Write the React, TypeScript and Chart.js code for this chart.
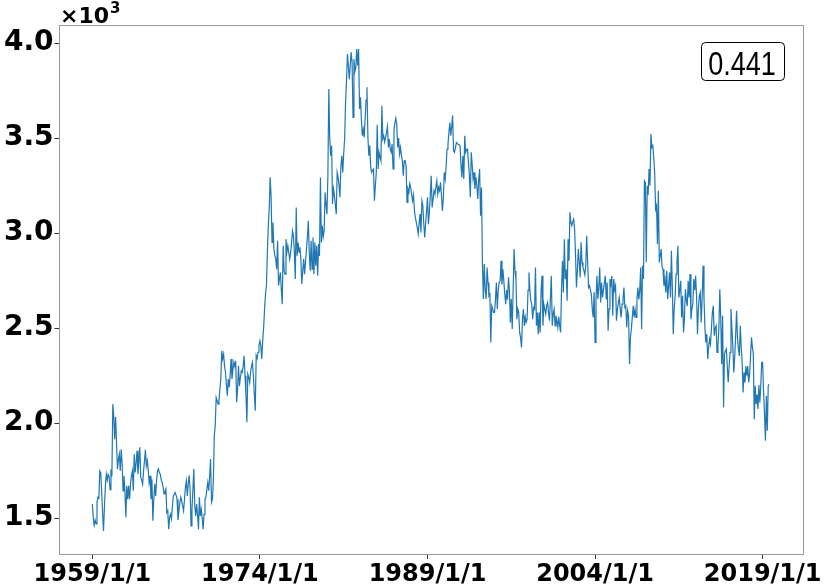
import React, { useEffect, useRef } from "react";
import { Chart, registerables } from "chart.js";

Chart.register(...registerables);

// Monthly values, starting 1959/1
const v1950s = [1574, 1500, 1463, 1490, 1470, 1584, 1610, 1605, 1749, 1740, 1640, 1530];
const v1960s = [
  1433, 1560, 1670, 1731, 1700, 1731, 1720, 1650, 1758, 1720, 2100, 2038,
  1916, 2032, 1890, 1758, 1810, 1837, 1749, 1863, 1788, 1644, 1723, 1640,
  1505, 1670, 1600, 1670, 1600, 1680, 1723, 1749, 1644, 1837, 1740, 1790,
  1855, 1731, 1800, 1873, 1714, 1700, 1679, 1749, 1800, 1860, 1775, 1802,
  1758, 1688, 1723, 1600, 1705, 1486, 1600, 1679, 1617, 1700, 1749, 1760,
  1740, 1731, 1700, 1688, 1663, 1628, 1640, 1654, 1530, 1539, 1442, 1505,
  1520, 1497, 1560, 1617, 1625, 1635, 1620, 1600, 1491, 1540, 1580, 1610,
  1590, 1565, 1539, 1600, 1663, 1697, 1617, 1680, 1726, 1654, 1460, 1547,
  1650, 1758, 1565, 1512, 1574, 1520, 1442, 1610, 1512, 1547, 1500, 1442,
  1520, 1600, 1610, 1653, 1688, 1644, 1720, 1811, 1584, 1600, 1700, 1933,
];
const v1970s = [
  1986, 2135, 2120, 2100, 2117, 2180, 2232, 2380, 2337, 2363, 2300, 2268,
  2200, 2144, 2232, 2189, 2250, 2337, 2232, 2280, 2320, 2300, 2328, 2110,
  2180, 2302, 2196, 2240, 2275, 2267, 2300, 2354, 2249, 2150, 2005, 2258,
  2240, 2214, 2270, 2300, 2320, 2249, 2150, 2065, 2355, 2340, 2373, 2410,
  2433, 2407, 2337, 2433, 2504, 2600, 2680, 2723, 2900, 3039, 3126, 3293,
  3196, 2951, 3056, 2916, 2881, 2863, 2810, 2960, 2723, 2760, 2793, 2700,
  2626, 2933, 2800, 2784, 2968, 2900, 2933, 2898, 2863, 2900, 2950, 3012,
  2986, 2900, 2758, 3135, 2881, 2950, 2900, 2925, 2860, 2732, 2800, 2863,
  2784, 2850, 2916, 2980, 3065, 2900, 2802, 2960, 2810, 2977, 2784, 2951,
  2828, 2933, 2775, 2942, 2880, 3293, 2951, 3038, 2980, 3012, 3214, 3150,
];
const v1980s = [
  3100, 3300, 3758, 3500, 3407, 3460, 3153, 3232, 3200, 3150, 3100, 3319,
  3293, 3250, 3188, 3350, 3407, 3319, 3420, 3495, 3688, 3800, 3942, 3880,
  3810, 3880, 3951, 3900, 3609, 3916, 3850, 3872, 3968, 3882, 3968, 3653,
  3714, 3600, 3512, 3547, 3503, 3600, 3700, 3767, 3503, 3407, 3460, 3346,
  3319, 3330, 3337, 3170, 3250, 3319, 3570, 3337, 3425, 3400, 3381, 3670,
  3495, 3512, 3480, 3503, 3530, 3561, 3451, 3495, 3440, 3425, 3468, 3337,
  3543, 3580, 3605, 3570, 3451, 3500, 3416, 3450, 3407, 3380, 3302, 3380,
  3381, 3355, 3161, 3232, 3214, 3260, 3240, 3200, 3170, 3200, 3117, 3080,
  3056, 3030, 2995, 3050, 3100, 3003, 3170, 3144, 3050, 2977, 3050, 3117,
  3188, 3047, 3109, 3200, 3302, 3135, 3180, 3223, 3205, 3240, 3275, 3205,
];
const v1990s = [
  3240, 3223, 3267, 3200, 3117, 3179, 3319, 3284, 3350, 3442, 3468, 3530,
  3582, 3512, 3560, 3618, 3433, 3425, 3450, 3477, 3470, 3468, 3465, 3460,
  3355, 3293, 3407, 3284, 3512, 3425, 3440, 3442, 3372, 3300, 3188, 3425,
  3360, 3284, 3319, 3232, 3293, 3250, 3179, 3280, 3337, 3091, 3240, 2846,
  2653, 2837, 2700, 2653, 2819, 2740, 2670, 2679, 2425, 2617, 2600, 2582,
  2582, 2650, 2740, 2600, 2700, 2740, 2749, 2854, 2730, 2810, 2750, 2679,
  2626, 2700, 2650, 2767, 2700, 2530, 2653, 2495, 2700, 2916, 2800, 2758,
  2547, 2600, 2582, 2477, 2450, 2398, 2547, 2600, 2512, 2560, 2530, 2547,
  2700, 2793, 2700, 2644, 2626, 2547, 2608, 2600, 2819, 2512, 2582, 2468,
  2583, 2477, 2700, 2775, 2512, 2626, 2600, 2574, 2620, 2635, 2580, 2539,
];
const v2000s = [
  2650, 2775, 2512, 2574, 2600, 2512, 2565, 2540, 2504, 2560, 2512, 2477,
  2705, 2854, 2688, 2968, 2758, 2810, 2644, 2968, 2854, 3109, 3056, 3039,
  3060, 3074, 3021, 2889, 2714, 2800, 2916, 2850, 2767, 2951, 2846, 2820,
  2802, 2780, 2828, 2986, 2850, 2714, 2723, 2700, 2679, 2600, 2556, 2688,
  2425, 2653, 2775, 2653, 2714, 2819, 2635, 2740, 2661, 2700, 2740, 2775,
  2651, 2740, 2486, 2600, 2758, 2730, 2775, 2565, 2758, 2700, 2723, 2539,
  2600, 2635, 2661, 2600, 2556, 2626, 2650, 2714, 2609, 2617, 2504, 2591,
  2565, 2311, 2451, 2495, 2560, 2617, 2556, 2600, 2556, 2650, 2714, 2651,
  2700, 2819, 2495, 2828, 2758, 3275, 3267, 2846, 3249, 3200, 3337, 3249,
  3521, 3451, 3460, 3400, 3319, 3126, 3144, 2942, 3223, 2846, 2880, 2916,
];
const v2010s = [
  2819, 2810, 2723, 2758, 2688, 2802, 2653, 2720, 2793, 2661, 2907, 2714,
  2468, 2600, 2670, 2784, 2850, 2933, 2661, 2700, 2749, 2556, 2670, 2477,
  2550, 2705, 2650, 2617, 2749, 2661, 2784, 2547, 2600, 2626, 2758, 2700,
  2775, 2670, 2468, 2600, 2670, 2688, 2530, 2650, 2828, 2661, 2500, 2425,
  2468, 2337, 2400, 2442, 2416, 2500, 2582, 2617, 2460, 2500, 2512, 2372,
  2407, 2500, 2705, 2550, 2311, 2565, 2083, 2363, 2380, 2390, 2300, 2214,
  2300, 2372, 2600, 2500, 2400, 2267, 2350, 2460, 2591, 2450, 2390, 2354,
  2512, 2400, 2320, 2161, 2267, 2214, 2300, 2249, 2300, 2214, 2258, 2350,
  2451, 2400, 2363, 2021, 2196, 2100, 2150, 2074, 2200, 2109, 2200, 2320,
  2320, 2161, 2050, 1907, 2144, 1960, 2196, 2205,
];

const startYear = 1959;
const xTickYears = [1959, 1974, 1989, 2004, 2019];
const yTickValues = [1500, 2000, 2500, 3000, 3500, 4000];
const annotationText = "0.441";

const values = [...v1950s, ...v1960s, ...v1970s, ...v1980s, ...v1990s, ...v2000s, ...v2010s];

export default function App() {
  const canvasRef = useRef<HTMLCanvasElement | null>(null);

  useEffect(() => {
    const canvas = canvasRef.current;
    if (!canvas) return;
    const points = values.map((v, i) => ({ x: startYear + i / 12, y: v }));
    const x0 = points[0].x;
    const x1 = points[points.length - 1].x;
    const xPad = 0.05 * (x1 - x0);
    const lo = Math.min(...values);
    const hi = Math.max(...values);
    const yPad = 0.05 * (hi - lo);

    const overlay = {
      id: "overlay",
      afterDraw(chart: any) {
        const { ctx, chartArea } = chart;
        ctx.save();
        // frame
        ctx.strokeStyle = "#9a9a9a";
        ctx.lineWidth = 1;
        ctx.strokeRect(
          Math.round(chartArea.left) + 0.5,
          Math.round(chartArea.top) + 0.5,
          Math.round(chartArea.right - chartArea.left) - 1,
          Math.round(chartArea.bottom - chartArea.top) - 1
        );
        // offset label x10^3
        ctx.fillStyle = "#000";
        ctx.textBaseline = "alphabetic";
        ctx.textAlign = "left";
        ctx.font = "bold 22px 'DejaVu Sans'";
        const base = "\u00d710";
        ctx.fillText(base, 60, 23);
        const w = ctx.measureText(base).width;
        ctx.font = "bold 15px 'DejaVu Sans'";
        ctx.fillText("3", 60 + w + 1, 13);
        // annotation box
        const bx = 701.5, by = 42.5, bw = 83, bh = 38, r = 4;
        ctx.beginPath();
        ctx.moveTo(bx + r, by);
        ctx.lineTo(bx + bw - r, by);
        ctx.arcTo(bx + bw, by, bx + bw, by + r, r);
        ctx.lineTo(bx + bw, by + bh - r);
        ctx.arcTo(bx + bw, by + bh, bx + bw - r, by + bh, r);
        ctx.lineTo(bx + r, by + bh);
        ctx.arcTo(bx, by + bh, bx, by + bh - r, r);
        ctx.lineTo(bx, by + r);
        ctx.arcTo(bx, by, bx + r, by, r);
        ctx.closePath();
        ctx.fillStyle = "#fff";
        ctx.fill();
        ctx.strokeStyle = "#000";
        ctx.stroke();
        ctx.fillStyle = "#000";
        ctx.font = "33px 'Liberation Sans', Arial, sans-serif";
        ctx.textAlign = "center";
        ctx.textBaseline = "alphabetic";
        const sx = 0.82;
        ctx.translate(742, 75);
        ctx.scale(sx, 1);
        ctx.fillText(annotationText, 0, 0);
        ctx.restore();
      },
    };

    const chart = new Chart(canvas, {
      type: "line",
      data: {
        datasets: [
          {
            data: points,
            borderColor: "#1f77b4",
            borderWidth: 1.2,
            pointRadius: 0,
            tension: 0,
            fill: false,
          },
        ],
      },
      options: {
        animation: false,
        responsive: false,
        events: [],
        layout: { padding: { top: 25, right: 27, left: 0, bottom: 0 } },
        plugins: { legend: { display: false }, tooltip: { enabled: false } },
        scales: {
          x: {
            type: "linear",
            min: x0 - xPad,
            max: x1 + xPad,
            border: { display: false },
            grid: { display: true, drawOnChartArea: false, drawTicks: true, tickLength: 4, color: "#333" },
            afterBuildTicks: (scale: any) => {
              scale.ticks = xTickYears.map((v) => ({ value: v }));
            },
            afterFit: (scale: any) => {
              scale.height = 33;
            },
            ticks: {
              autoSkip: false,
              maxRotation: 0,
              padding: 1,
              color: "#000",
              font: { family: "'DejaVu Sans'", size: 24, weight: "bold" },
              callback: (v: any) => `${v}/1/1`,
            },
          },
          y: {
            type: "linear",
            min: lo - yPad,
            max: hi + yPad,
            border: { display: false },
            grid: { display: true, drawOnChartArea: false, drawTicks: true, tickLength: 4, color: "#333" },
            afterBuildTicks: (scale: any) => {
              scale.ticks = yTickValues.map((v) => ({ value: v }));
            },
            afterFit: (scale: any) => {
              scale.width = 58.5;
            },
            ticks: {
              padding: 1,
              color: "#000",
              font: { family: "'DejaVu Sans'", size: 28, weight: "bold" },
              callback: (v: any) => (Number(v) / 1000).toFixed(1),
            },
          },
        },
      },
      plugins: [overlay],
    });
    return () => chart.destroy();
  }, []);

  return (
    <div style={{ position: "absolute", left: 0, top: 0, width: 830, height: 588, background: "#fff" }}>
      <canvas ref={canvasRef} width={830} height={588} />
    </div>
  );
}
